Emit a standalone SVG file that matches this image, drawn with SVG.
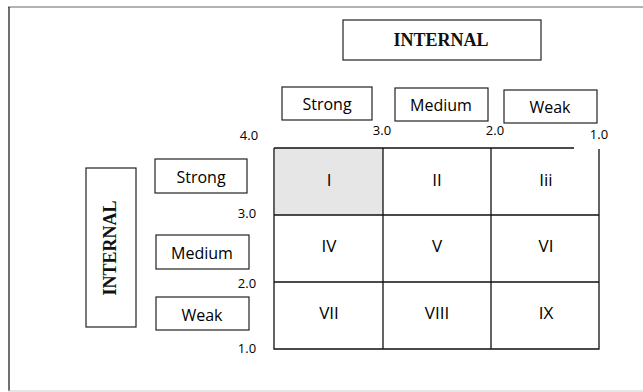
<svg xmlns="http://www.w3.org/2000/svg" width="643" height="392" viewBox="0 0 643 392">
<style>
.box{fill:#fff;stroke:#222;stroke-width:1.2}
.lbl{font-family:"Open Sans","Liberation Sans",sans-serif;font-size:16px;fill:#000;text-anchor:middle}
.cell{font-family:"Open Sans","Liberation Sans",sans-serif;font-size:17px;fill:#000;text-anchor:middle}
.num{font-family:"Open Sans","Liberation Sans",sans-serif;font-size:13px;fill:#000;text-anchor:middle}
.ttl{font-family:"Liberation Serif",serif;font-size:18px;font-weight:bold;fill:#111;text-anchor:middle}
.grid{stroke:#111;stroke-width:1.3;fill:none}
</style>
<rect width="643" height="392" fill="#fff"/>
<g id="frame">
<line x1="8" y1="7" x2="643" y2="7" stroke="#666" stroke-width="1"/>
<line x1="9" y1="7" x2="9" y2="391" stroke="#111" stroke-width="1.2"/>
<line x1="8" y1="391" x2="643" y2="391" stroke="#ccc" stroke-width="1.2"/>
</g>
<g id="title-top">
<rect class="box" x="343" y="20" width="198" height="40"/>
<text class="ttl" x="441" y="46">INTERNAL</text>
</g>
<g id="title-left">
<rect class="box" x="86" y="168" width="50" height="159"/>
<text class="ttl" transform="translate(116,248) rotate(-90)">INTERNAL</text>
</g>
<g id="col-strong">
<rect class="box" x="282" y="87" width="90" height="33"/>
<text class="lbl" x="327" y="110">Strong</text>
</g>
<g id="col-medium">
<rect class="box" x="395" y="88" width="93" height="33"/>
<text class="lbl" x="441" y="111">Medium</text>
</g>
<g id="col-weak">
<rect class="box" x="504" y="90" width="93" height="33"/>
<text class="lbl" x="550" y="113">Weak</text>
</g>
<g id="row-strong">
<rect class="box" x="155" y="159" width="92" height="34"/>
<text class="lbl" x="201" y="183">Strong</text>
</g>
<g id="row-medium">
<rect class="box" x="156" y="235" width="93" height="34"/>
<text class="lbl" x="202" y="259">Medium</text>
</g>
<g id="row-weak">
<rect class="box" x="156" y="297" width="93" height="33"/>
<text class="lbl" x="202" y="321">Weak</text>
</g>
<g id="scale">
<text class="num" x="249" y="140">4.0</text>
<text class="num" x="382" y="135">3.0</text>
<text class="num" x="495" y="135">2.0</text>
<text class="num" x="599" y="139">1.0</text>
<text class="num" x="247" y="218">3.0</text>
<text class="num" x="247" y="288">2.0</text>
<text class="num" x="247" y="353">1.0</text>
</g>
<g id="cell-I"><rect x="275" y="148" width="108" height="67" fill="#e6e6e6"/><text class="cell" x="329" y="186">I</text></g>
<g id="cell-II"><text class="cell" x="437" y="186">II</text></g>
<g id="cell-III"><text class="cell" x="546" y="186">Iii</text></g>
<g id="cell-IV"><text class="cell" x="329" y="252">IV</text></g>
<g id="cell-V"><text class="cell" x="437" y="252">V</text></g>
<g id="cell-VI"><text class="cell" x="546" y="252">VI</text></g>
<g id="cell-VII"><text class="cell" x="329" y="319">VII</text></g>
<g id="cell-VIII"><text class="cell" x="437" y="319">VIII</text></g>
<g id="cell-IX"><text class="cell" x="546" y="319">IX</text></g>
<g id="connectors">
<path class="grid" d="M274 148 H574 M599 149 V349 H274 V148 M383 148 V349 M491 148 V349 M274 215 H599 M274 282 H599"/>
</g>
</svg>
